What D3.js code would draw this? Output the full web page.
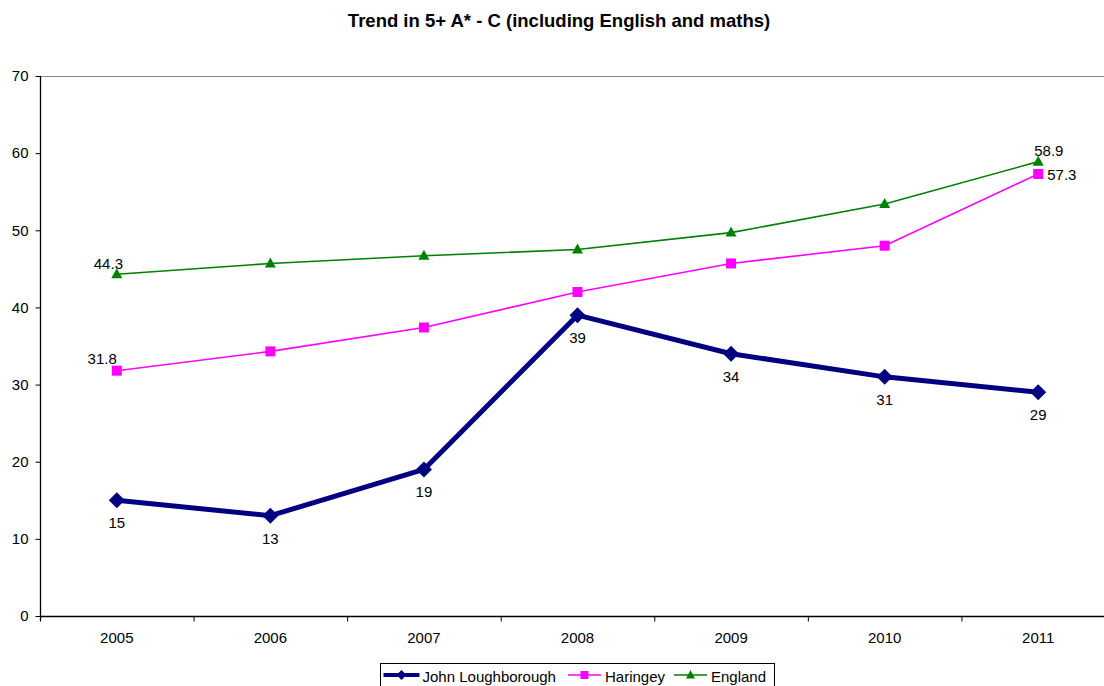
<!DOCTYPE html>
<html>
<head>
<meta charset="utf-8">
<script src="https://cdn.jsdelivr.net/npm/d3@7"></script>
<style>
  html, body { margin: 0; padding: 0; background: #fff; overflow: hidden; }
  svg { display: block; font-family: "Liberation Sans", Arial, sans-serif; }
</style>
</head>
<body>
<svg id="chart" width="1104" height="686"></svg>
<script>
const years = ["2005", "2006", "2007", "2008", "2009", "2010", "2011"];
const johnLoughborough = [15, 13, 19, 39, 34, 31, 29];
const haringey = [31.8, 34.3, 37.4, 42.0, 45.7, 48.0, 57.3];
const england = [44.3, 45.7, 46.7, 47.5, 49.7, 53.4, 58.9];
const yTicks = [0, 10, 20, 30, 40, 50, 60, 70];

(function () {
const svg = d3.select("#chart");
// the plot area runs slightly past the right edge of the canvas
const pLeft = 40, pRight = 1115, pTop = 76, pBottom = 616;
const FS = 15;

const x = d3.scaleBand().domain(years).range([pLeft, pRight]);
const y = d3.scaleLinear().domain([0, 70]).range([pBottom, pTop]);
const cx = d => x(d) + x.bandwidth() / 2;

// plot frame (top edge)
svg.append("path")
  .attr("d", `M${pLeft},${pTop + 0.5}H${pRight + 0.5}V${pBottom}`)
  .attr("fill", "none").attr("stroke", "#888").attr("stroke-width", 1.2);

// y axis
const yAxis = svg.append("g").attr("transform", `translate(${pLeft + 0.5},0)`)
  .call(d3.axisLeft(y).tickValues(yTicks).tickSize(5).tickPadding(7));
// x axis
const xAxis = svg.append("g").attr("transform", `translate(0,${pBottom + 0.5})`)
  .call(d3.axisBottom(x).tickSize(0).tickPadding(16));
// x tick marks at band boundaries
xAxis.selectAll(".bnd").data(d3.range(years.length + 1)).enter().append("line")
  .attr("x1", i => pLeft + i * x.bandwidth() + 0.5)
  .attr("x2", i => pLeft + i * x.bandwidth() + 0.5)
  .attr("y1", 0).attr("y2", 5).attr("stroke", "#000");

[yAxis, xAxis].forEach(g => {
  g.select(".domain").attr("stroke", "#000").attr("stroke-width", 1.3);
  g.selectAll(".tick line").attr("stroke", "#000");
  g.selectAll("text").attr("font-size", FS).attr("fill", "#000")
    .attr("font-family", "'Liberation Sans', Arial, sans-serif");
});
xAxis.select(".domain").attr("d", `M${pLeft},0H${pRight}`);
yAxis.select(".domain").attr("d", `M0,${pBottom + 5}V${pTop}`);

// title
svg.append("text").attr("x", 559).attr("y", 27).attr("text-anchor", "middle")
  .attr("font-size", 18.5).attr("font-weight", "bold").text("Trend in 5+ A* - C (including English and maths)");

const line = d3.line().x((d, i) => cx(years[i])).y(d => y(d));

const series = [
  { name: "John Loughborough", values: johnLoughborough, color: "#000080", width: 5, marker: "diamond" },
  { name: "Haringey", values: haringey, color: "#FF00FF", width: 1.6, marker: "square" },
  { name: "England", values: england, color: "#008000", width: 1.6, marker: "triangle" }
];

function markerPath(type) {
  if (type === "diamond") return "M0,-8L8,0L0,8L-8,0Z";
  if (type === "square") return "M-5,-5H5V5H-5Z";
  return "M0,-6L5.5,4H-5.5Z";
}

// draw from back to front: England, Haringey, John Loughborough
series.slice().reverse().forEach(s => {
  svg.append("path").datum(s.values).attr("d", line)
    .attr("fill", "none").attr("stroke", s.color).attr("stroke-width", s.width)
    .attr("stroke-linejoin", "round");
  svg.selectAll(null).data(s.values).enter().append("path")
    .attr("transform", (d, i) => `translate(${cx(years[i])},${y(d)})`)
    .attr("d", markerPath(s.marker)).attr("fill", s.color);
});

// data labels
svg.selectAll(null).data(johnLoughborough).enter().append("text")
  .attr("x", (d, i) => cx(years[i])).attr("y", d => y(d) + 28)
  .attr("text-anchor", "middle").attr("font-size", FS).text(d => d);

const lastIdx = years.length - 1;
svg.append("text").attr("x", cx(years[0])).attr("y", y(haringey[0]) - 7)
  .attr("text-anchor", "end").attr("font-size", FS).text(haringey[0].toFixed(1));
svg.append("text").attr("x", cx(years[lastIdx]) + 9).attr("y", y(haringey[lastIdx]) + 6)
  .attr("text-anchor", "start").attr("font-size", FS).text(haringey[lastIdx].toFixed(1));
svg.append("text").attr("x", cx(years[0]) - 23).attr("y", y(england[0]) - 5)
  .attr("text-anchor", "start").attr("font-size", FS).text(england[0].toFixed(1));
svg.append("text").attr("x", cx(years[lastIdx]) - 4).attr("y", y(england[lastIdx]) - 6)
  .attr("text-anchor", "start").attr("font-size", FS).text(england[lastIdx].toFixed(1));

// legend
const legend = svg.append("g").attr("transform", "translate(380,663)");
legend.append("rect").attr("x", 0.5).attr("y", 0.5).attr("width", 394).attr("height", 30)
  .attr("fill", "#fff").attr("stroke", "#000").attr("stroke-width", 1);
const legendX = [3.5, 188, 294];
series.forEach((s, i) => {
  const g = legend.append("g").attr("transform", `translate(${legendX[i]},12)`);
  g.append("line").attr("x1", 0).attr("x2", i === 0 ? 36 : 33).attr("y1", 0).attr("y2", 0)
    .attr("stroke", s.color).attr("stroke-width", s.width === 5 ? 4 : 1.6);
  g.append("path").attr("transform", `translate(${i === 0 ? 18 : 16.5},0)`)
    .attr("d", s.marker === "diamond" ? "M0,-5L5,0L0,5L-5,0Z" : s.marker === "square" ? "M-4,-4H4V4H-4Z" : "M0,-5L4.5,3.5H-4.5Z")
    .attr("fill", s.color);
  g.append("text").attr("x", i === 0 ? 39 : 37).attr("y", 6.5).attr("font-size", FS).text(s.name);
});
})();
</script>
</body>
</html>
